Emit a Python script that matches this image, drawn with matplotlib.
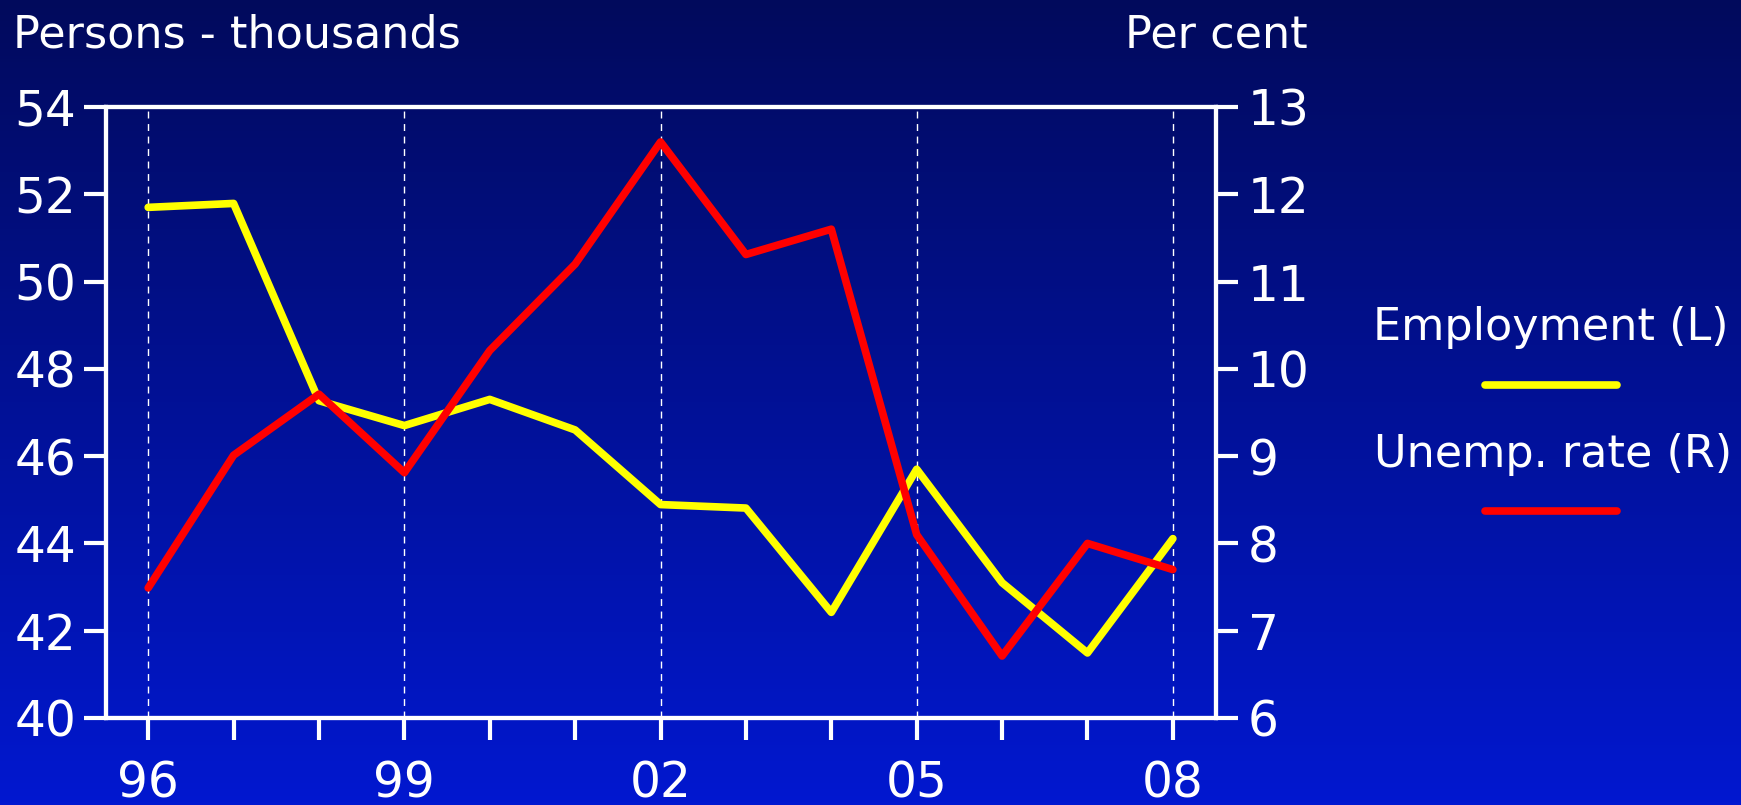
import numpy as np
import matplotlib
matplotlib.use("Agg")
import matplotlib.pyplot as plt
from matplotlib.lines import Line2D

plt.rcParams['font.family'] = ['DejaVu Sans']

years = np.arange(1996, 2009)
employment = [51.70, 51.79, 47.27, 46.70, 47.30, 46.60, 44.89, 44.81, 42.42, 45.70, 43.10, 41.49, 44.11]
unemp_rate = [7.49, 9.01, 9.71, 8.81, 10.21, 11.20, 12.60, 11.31, 11.60, 8.10, 6.71, 8.00, 7.70]
label_years = [1996, 1999, 2002, 2005, 2008]
label_text = ['96', '99', '02', '05', '08']

fig = plt.figure(figsize=(17.41, 8.05), dpi=100)

# background gradient, dark navy at top to brighter blue at bottom
bg = fig.add_axes([0, 0, 1, 1], zorder=-10)
grad = np.linspace(0, 1, 256).reshape(-1, 1)
top = np.array([1, 10, 92]) / 255
bot = np.array([2, 24, 208]) / 255
img = top + (bot - top) * grad[:, :, None]
bg.imshow(img, aspect='auto', extent=[0, 1, 0, 1])
bg.axis('off')

ax = fig.add_axes([0.0606, 0.1081, 0.6376, 0.759])
ax.set_facecolor('none')
ax2 = ax.twinx()

ax.plot(years, employment, color='#ffff00', lw=5.5, solid_capstyle='round')
ax2.plot(years, unemp_rate, color='#ff0000', lw=5.5, solid_capstyle='round')

ax.set_xlim(1995.5, 2008.5)
ax.set_ylim(40, 54)
ax2.set_ylim(6, 13)
ax.set_yticks(np.arange(40, 55, 2))
ax2.set_yticks(np.arange(6, 14, 1))
ax.set_xticks(label_years)
ax.set_xticklabels(label_text)
ax.set_xticks(years, minor=True)

ax.grid(axis='x', which='major', color='white', lw=1, linestyle=(0, (5, 4)))

for a in (ax, ax2):
    for s in a.spines.values():
        s.set_color('white')
        s.set_linewidth(3)
    a.tick_params(colors='white', labelsize=35, width=3, length=16, direction='out')
    a.tick_params(which='minor', colors='white', width=3, length=16, direction='out')
ax.tick_params(axis='x', which='both', pad=14)
ax.tick_params(axis='y', pad=5)
ax2.tick_params(axis='y', pad=7)

fig.text(13 / 1741, 1 - 47 / 805, 'Persons - thousands', color='white', fontsize=32, va='baseline', ha='left')
fig.text(1308 / 1741, 1 - 47 / 805, 'Per cent', color='white', fontsize=32, va='baseline', ha='right')

# legend: text above a short line sample
fig.text(0.891, 1 - 340 / 805, 'Employment (L)', color='white', fontsize=32, va='baseline', ha='center')
fig.text(0.892, 1 - 467 / 805, 'Unemp. rate (R)', color='white', fontsize=32, va='baseline', ha='center')
fig.add_artist(Line2D([0.853, 0.9288], [1 - 385 / 805] * 2, color='#ffff00', lw=5.5, solid_capstyle='round'))
fig.add_artist(Line2D([0.853, 0.9288], [1 - 511 / 805] * 2, color='#ff0000', lw=5.5, solid_capstyle='round'))

fig.savefig('out.png', dpi=100)
